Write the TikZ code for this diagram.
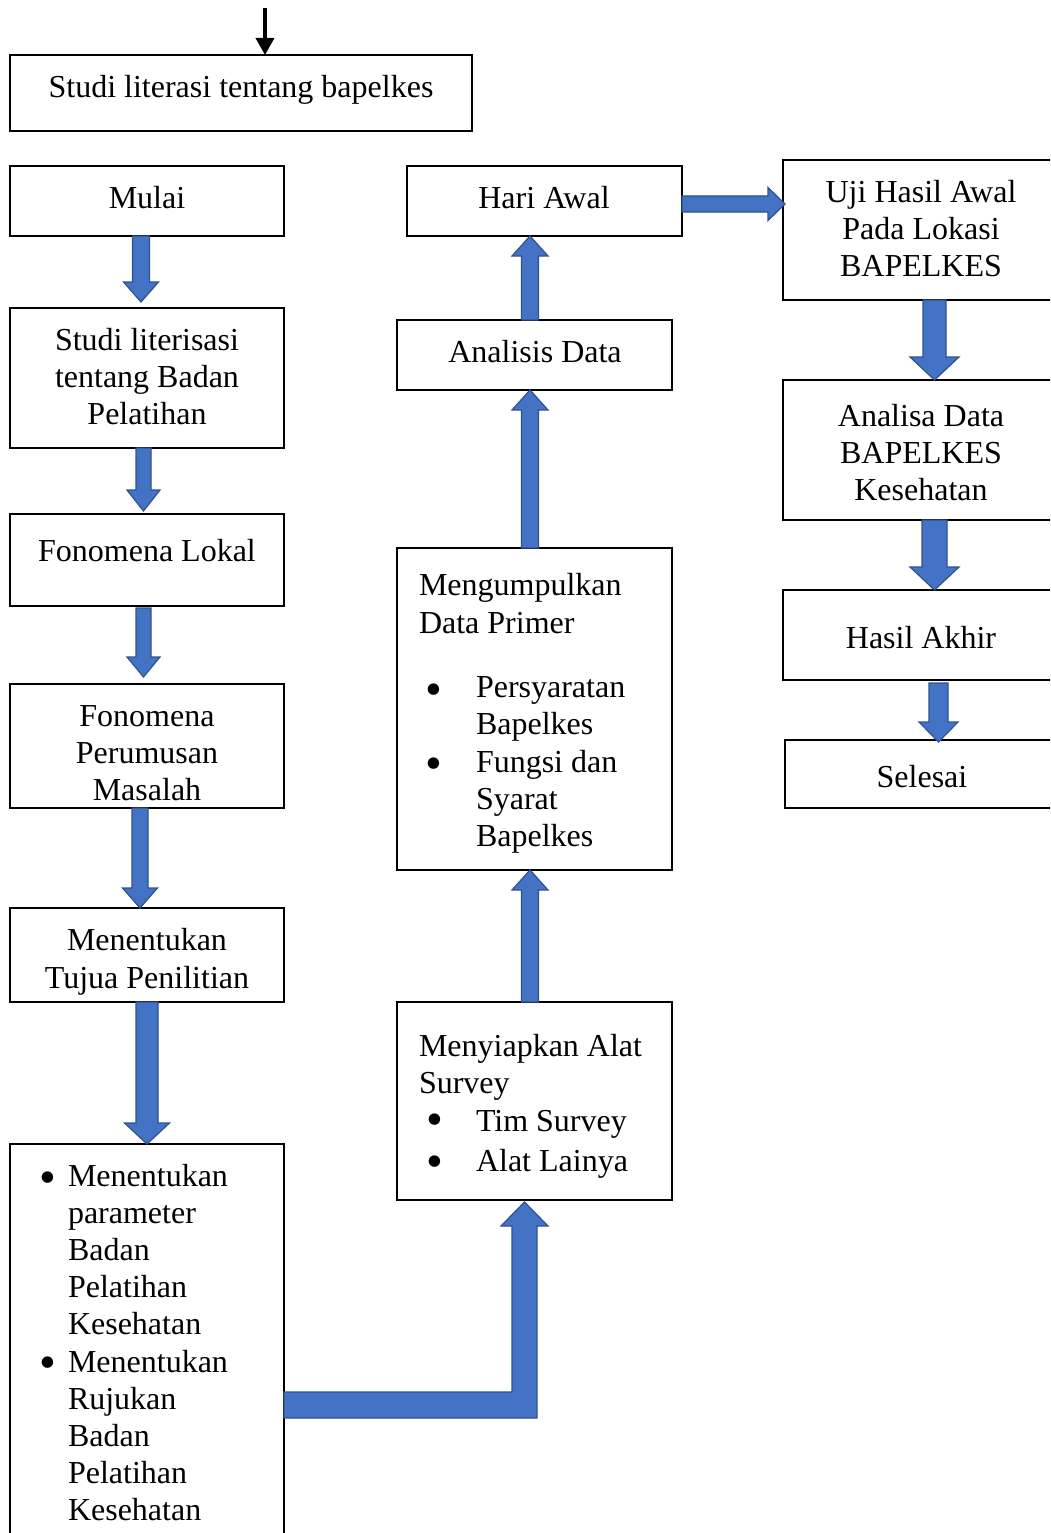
\documentclass[tikz,border=0pt]{standalone}
\usepackage{fontspec}
\setmainfont{Liberation Serif}
\usetikzlibrary{calc,arrows.meta}
\definecolor{ablue}{HTML}{4472C4}
\definecolor{aedge}{HTML}{2F528F}
\newcommand\ml[1]{\begin{tabular}[t]{@{}c@{}}#1\end{tabular}}
\newcommand\vblk[5]{\filldraw[blk] let \p1=#1, \p2=#2, \n1={(\y1-\y2)/abs(\y1-\y2)} in
  ({\x1-#3},{\y1}) -- ({\x1-#3},{\y2+(\n1)*#5}) -- ({\x1-#4},{\y2+(\n1)*#5}) -- ({\x1},{\y2})
  -- ({\x1+#4},{\y2+(\n1)*#5}) -- ({\x1+#3},{\y2+(\n1)*#5}) -- ({\x1+#3},{\y1}) -- cycle;}
\newcommand\hblk[5]{\filldraw[blk] let \p1=#1, \p2=#2, \n1={(\x1-\x2)/abs(\x1-\x2)} in
  ({\x1},{\y1-#3}) -- ({\x2+(\n1)*#5},{\y1-#3}) -- ({\x2+(\n1)*#5},{\y1-#4}) -- ({\x2},{\y1})
  -- ({\x2+(\n1)*#5},{\y1+#4}) -- ({\x2+(\n1)*#5},{\y1+#3}) -- ({\x1},{\y1+#3}) -- cycle;}
\tikzset{
  box/.style={draw=black, line width=2.2pt, inner sep=0pt, outer sep=0pt},
  txt/.style={inner sep=0pt, outer sep=0pt, font=\fontsize{32}{37}\selectfont},
  bull/.style={inner sep=0pt, outer sep=0pt, anchor=base, font=\fontsize{48}{50}\selectfont},
  blk/.style={fill=ablue, draw=aedge, line width=1.2pt},
}
\begin{document}
\begin{tikzpicture}[x=1pt,y=-1pt]
\useasboundingbox (0,0) rectangle (1050,1533);
\clip (0,0) rectangle (1050,1533);
% boxes
\node[box, minimum width=462pt, minimum height=76pt] (top) at (241,93) {};
\node[box, minimum width=274pt, minimum height=70pt] (mulai) at (147,201) {};
\node[box, minimum width=274pt, minimum height=140pt] (studi) at (147,378) {};
\node[box, minimum width=274pt, minimum height=92pt] (lok) at (147,560) {};
\node[box, minimum width=274pt, minimum height=124pt] (perum) at (147,746) {};
\node[box, minimum width=274pt, minimum height=94pt] (tuju) at (147,955) {};
\node[box, minimum width=274pt, minimum height=406pt] (bul) at (147,1347) {};
\node[box, minimum width=275pt, minimum height=70pt] (hari) at (544.5,201) {};
\node[box, minimum width=275pt, minimum height=70pt] (anal) at (534.5,355) {};
\node[box, minimum width=275pt, minimum height=322pt] (kump) at (534.5,709) {};
\node[box, minimum width=275pt, minimum height=198pt] (siap) at (534.5,1101) {};
\node[box, minimum width=275pt, minimum height=140pt] (uji) at (920.5,230) {};
\node[box, minimum width=275pt, minimum height=140pt] (anla) at (920.5,450) {};
\node[box, minimum width=275pt, minimum height=90pt] (akhir) at (920.5,635) {};
\node[box, minimum width=275pt, minimum height=68pt] (sele) at (922.5,774) {};
% texts
\node[txt, anchor=base] (ttop) at (241,98) {Studi literasi tentang bapelkes};
\node[txt, anchor=base] (tmulai) at (147,208) {Mulai};
\node[txt, anchor=base] (tstudi) at (147,350) {\ml{Studi literisasi\\tentang Badan\\Pelatihan}};
\node[txt, anchor=base] (tlok) at (147,561) {Fonomena Lokal};
\node[txt, anchor=base] (tperum) at (147,726) {\ml{Fonomena\\Perumusan\\Masalah}};
\node[txt, anchor=base] (ttuju1) at (147,950) {Menentukan};
\node[txt, anchor=base] (ttuju2) at (147,988) {Tujua Penilitian};
\node[bull] (bA) at (48,1193) {•};
\node[txt, anchor=base west] (tA) at (68,1186) {\begin{tabular}[t]{@{}l@{}}Menentukan\\parameter\\Badan\\Pelatihan\\Kesehatan\end{tabular}};
\node[bull] (bB) at (48,1378) {•};
\node[txt, anchor=base west] (tB) at (68,1372) {\begin{tabular}[t]{@{}l@{}}Menentukan\\Rujukan\\Badan\\Pelatihan\\Kesehatan\end{tabular}};
\node[txt, anchor=base] (thari) at (544,208) {Hari Awal};
\node[txt, anchor=base] (tanal) at (535,362) {Analisis Data};
\node[txt, anchor=base west] (tk1) at (419,595) {Mengumpulkan};
\node[txt, anchor=base west] (tk2) at (419,633) {Data Primer};
\node[bull] (bk1) at (434,705) {•};
\node[txt, anchor=base west] (tk3) at (476,697) {\begin{tabular}[t]{@{}l@{}}Persyaratan\\Bapelkes\end{tabular}};
\node[bull] (bk2) at (434,779) {•};
\node[txt, anchor=base west] (tk4) at (476,772) {\begin{tabular}[t]{@{}l@{}}Fungsi dan\\Syarat\\Bapelkes\end{tabular}};
\node[txt, anchor=base west] (ts1) at (419,1056) {Menyiapkan Alat};
\node[txt, anchor=base west] (ts2) at (419,1093) {Survey};
\node[bull] (bs1) at (435,1135) {•};
\node[txt, anchor=base west] (ts3) at (476,1131) {Tim Survey};
\node[bull] (bs2) at (435,1177) {•};
\node[txt, anchor=base west] (ts4) at (476,1171) {Alat Lainya};
\node[txt, anchor=base] (tuji) at (921,202) {\ml{Uji Hasil Awal\\Pada Lokasi\\BAPELKES}};
\node[txt, anchor=base] (tanla) at (921,426) {\ml{Analisa Data\\BAPELKES\\Kesehatan}};
\node[txt, anchor=base] (takhir) at (921,648) {Hasil Akhir};
\node[txt, anchor=base] (tsele) at (922,787) {Selesai};
% top black arrow
\coordinate (tstart) at (265,8);
\draw[line width=3.5pt, -{Triangle[width=18pt,length=17pt]}] (tstart) -- (top.north -| tstart);
% left column arrows
\vblk{([xshift=-6pt]mulai.south)}{([yshift=6pt]studi.north)}{8.5pt}{17.5pt}{20pt}
\vblk{([xshift=-3.5pt]studi.south)}{([yshift=3pt]lok.north)}{7.5pt}{16.5pt}{21pt}
\vblk{([xshift=-3.5pt,yshift=-2pt]lok.south)}{([yshift=7pt]perum.north)}{7.5pt}{16.5pt}{20pt}
\vblk{([xshift=-7pt]perum.south)}{(tuju.north)}{8pt}{17.5pt}{20pt}
\vblk{(tuju.south)}{(bul.north)}{11pt}{22.5pt}{21pt}
% middle column arrows (up)
\vblk{([xshift=-4.5pt]anal.north)}{(hari.south)}{8.5pt}{18pt}{20pt}
\vblk{([xshift=-4.5pt]kump.north)}{(anal.south)}{8.5pt}{18pt}{20pt}
\vblk{([xshift=-4.5pt]siap.north)}{(kump.south)}{8.5pt}{18pt}{20pt}
% bent arrow
\filldraw[blk] let \p1=(bul.east), \p2=(siap.south) in
  ({\x1},-1392pt) -- (512pt,-1392pt) -- (512pt,-1226pt) -- (501pt,-1226pt) -- (524.5pt,{\y2-2pt})
  -- (548pt,-1226pt) -- (537pt,-1226pt) -- (537pt,-1418pt) -- ({\x1},-1418pt) -- cycle;
% horizontal arrow
\hblk{([yshift=-3pt]hari.east)}{([xshift=2pt]uji.west)}{8pt}{16.5pt}{17pt}
% right column arrows
\vblk{([xshift=14pt]uji.south)}{(anla.north)}{11.5pt}{24.5pt}{23pt}
\vblk{([xshift=14pt]anla.south)}{(akhir.north)}{12.5pt}{24.5pt}{23pt}
\vblk{([xshift=18pt,yshift=-3pt]akhir.south)}{([yshift=-2pt]sele.north)}{9.5pt}{19.5pt}{20pt}
\end{tikzpicture}
\end{document}
